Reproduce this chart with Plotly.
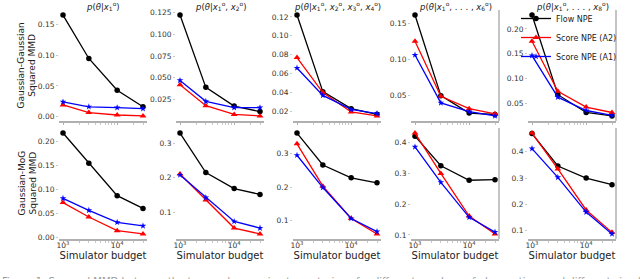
import plotly.graph_objects as go
import math

# ---------------- data ----------------
budgets = [1000, 3000, 10000, 30000]
x_tick_vals = [1000, 10000]
x_tick_text = ["10<sup>3</sup>", "10<sup>4</sup>"]
x_minor_vals = [2000, 3000, 4000, 5000, 6000, 7000, 8000, 9000, 20000, 30000]

titles = [
    "<i>p</i>(<i>θ</i>|<i>x</i><sub>1</sub><sup>o</sup>)",
    "<i>p</i>(<i>θ</i>|<i>x</i><sub>1</sub><sup>o</sup>, <i>x</i><sub>2</sub><sup>o</sup>)",
    "<i>p</i>(<i>θ</i>|<i>x</i><sub>1</sub><sup>o</sup>, <i>x</i><sub>2</sub><sup>o</sup>, <i>x</i><sub>3</sub><sup>o</sup>, <i>x</i><sub>4</sub><sup>o</sup>)",
    "<i>p</i>(<i>θ</i>|<i>x</i><sub>1</sub><sup>o</sup>, . . . , <i>x</i><sub>6</sub><sup>o</sup>)",
    "<i>p</i>(<i>θ</i>|<i>x</i><sub>1</sub><sup>o</sup>, . . . , <i>x</i><sub>8</sub><sup>o</sup>)",
]
row_labels = ["Gaussian-Gaussian<br>Squared MMD", "Gaussian-MoG<br>Squared MMD"]
x_label = "Simulator budget"
series_names = ["Flow NPE", "Score NPE (A2)", "Score NPE (A1)"]

# Gaussian-Gaussian (top row), one list per panel
flow_gg = [
    [0.166, 0.095, 0.043, 0.016],
    [0.122, 0.039, 0.0175, 0.0112],
    [0.122, 0.041, 0.023, 0.017],
    [0.161, 0.050, 0.026, 0.024],
    [0.228, 0.067, 0.031, 0.024],
]
a2_gg = [
    [0.019, 0.0065, 0.0026, 0.001],
    [0.042, 0.018, 0.008, 0.0062],
    [0.077, 0.040, 0.0195, 0.0153],
    [0.125, 0.049, 0.032, 0.025],
    [0.175, 0.074, 0.042, 0.031],
]
a1_gg = [
    [0.024, 0.016, 0.0145, 0.013],
    [0.047, 0.023, 0.0157, 0.0157],
    [0.066, 0.037, 0.0223, 0.0178],
    [0.106, 0.040, 0.028, 0.022],
    [0.146, 0.062, 0.035, 0.025],
]
# Gaussian-MoG (bottom row)
flow_gm = [
    [0.218, 0.155, 0.0875, 0.061],
    [0.329, 0.215, 0.169, 0.152],
    [0.361, 0.266, 0.228, 0.213],
    [0.420, 0.324, 0.277, 0.279],
    [0.469, 0.346, 0.300, 0.275],
]
a2_gm = [
    [0.073, 0.043, 0.0146, 0.0077],
    [0.211, 0.136, 0.055, 0.038],
    [0.329, 0.203, 0.107, 0.061],
    [0.430, 0.299, 0.161, 0.103],
    [0.471, 0.335, 0.179, 0.094],
]
a1_gm = [
    [0.082, 0.057, 0.032, 0.0244],
    [0.208, 0.143, 0.074, 0.055],
    [0.295, 0.199, 0.107, 0.068],
    [0.385, 0.270, 0.157, 0.109],
    [0.412, 0.303, 0.171, 0.088],
]

y_ticks_gg = [
    [0.00, 0.05, 0.10, 0.15],
    [0.025, 0.050, 0.075, 0.100, 0.125],
    [0.02, 0.04, 0.06, 0.08, 0.10, 0.12],
    [0.05, 0.10, 0.15],
    [0.05, 0.10, 0.15, 0.20],
]
y_fmt_gg = [".2f", ".3f", ".2f", ".2f", ".2f"]
y_ticks_gm = [
    [0.00, 0.05, 0.10, 0.15, 0.20],
    [0.1, 0.2, 0.3],
    [0.1, 0.2, 0.3],
    [0.1, 0.2, 0.3, 0.4],
    [0.1, 0.2, 0.3, 0.4],
]
y_fmt_gm = [".2f", ".1f", ".1f", ".1f", ".1f"]

caption = ("Figure 1: Squared MMD between the true and approximate posteriors, for different numbers of "
           "observations and different simulation budgets")

# ---------------- layout / style ----------------
W, H = 640, 279
col_left = [59, 176, 293, 411, 528]
col_w = 88
row_top = [10, 128]
row_h = 111
FONT = "DejaVu Sans"
colors = ["#000000", "#ff0000", "#0000ff"]
symbols = ["circle", "triangle-up", "star"]
msizes = [5.5, 6, 5]
spine = "#b0b0b0"
TICKFONT = dict(size=7.5, color="#333333")

lx0, lx1 = math.log10(budgets[0]), math.log10(budgets[-1])
xpad = 0.05 * (lx1 - lx0)
x_range = [lx0 - xpad, lx1 + xpad]

fig = go.Figure()
layout = dict(
    width=W, height=H,
    margin=dict(l=0, r=0, t=0, b=0, autoexpand=False),
    paper_bgcolor="white", plot_bgcolor="white",
    font=dict(family=FONT, size=8, color="#333333"),
    showlegend=True,
    legend=dict(x=516 / W, y=1 - 4 / H, xanchor="left", yanchor="top",
                bgcolor="rgba(255,255,255,0)", font=dict(size=8, color="#222"),
                tracegroupgap=0, itemwidth=30, borderwidth=0),
)
annotations = []
shapes = []

rows = [(flow_gg, a2_gg, a1_gg, y_ticks_gg, y_fmt_gg),
        (flow_gm, a2_gm, a1_gm, y_ticks_gm, y_fmt_gm)]

for r, (fl, a2, a1, yt, yf) in enumerate(rows):
    for c in range(5):
        i = r * 5 + c + 1
        xn = "x" if i == 1 else f"x{i}"
        yn = "y" if i == 1 else f"y{i}"
        xd = [col_left[c] / W, (col_left[c] + col_w) / W]
        yd = [1 - (row_top[r] + row_h) / H, 1 - row_top[r] / H]
        allv = fl[c] + a2[c] + a1[c]
        lo, hi = min(allv), max(allv)
        pad = 0.05 * (hi - lo)
        for k, ser in enumerate([fl[c], a2[c], a1[c]]):
            fig.add_trace(go.Scatter(
                x=budgets, y=ser, mode="lines+markers", name=series_names[k],
                line=dict(color=colors[k], width=1.3),
                marker=dict(color=colors[k], symbol=symbols[k], size=msizes[k],
                            line=dict(width=0)),
                xaxis=xn, yaxis=yn,
                showlegend=(i == 5), legendrank=k + 1,
            ))
        layout["xaxis" if i == 1 else f"xaxis{i}"] = dict(
            domain=xd, anchor=yn, type="log", range=x_range, automargin=False,
            showgrid=False, zeroline=False,
            showline=True, linecolor=spine, linewidth=1.5,
            tickvals=x_tick_vals, ticktext=x_tick_text,
            showticklabels=(r == 1), ticks="outside", ticklen=2,
            tickcolor=spine, tickfont=TICKFONT, ticklabelstandoff=-4,
            minor=dict(tickvals=x_minor_vals, ticks="outside", ticklen=2,
                       tickcolor="#c8c8c8", showgrid=False),
            title=dict(text=x_label if r == 1 else "", font=dict(size=10, color="#222"),
                       standoff=0),
        )
        layout["yaxis" if i == 1 else f"yaxis{i}"] = dict(
            domain=yd, anchor=xn, range=[lo - pad, hi + pad], automargin=False,
            showgrid=False, zeroline=False, showline=False,
            tickvals=yt[c], tickformat=yf[c],
            ticks="outside", ticklen=2, tickcolor="#c8c8c8",
            tickfont=TICKFONT,
        )
        if r == 0:
            annotations.append(dict(
                text=titles[c], xref="paper", yref="paper",
                x=(col_left[c] + col_w / 2) / W, y=1.0, xanchor="center", yanchor="top",
                showarrow=False, font=dict(size=8.5, color="#222"), yshift=2,
            ))
        if c >= 3:
            shapes.append(dict(type="line", xref="paper", yref="paper",
                               x0=xd[1], x1=xd[1], y0=yd[0], y1=yd[1],
                               line=dict(color=spine, width=1.5)))
    annotations.append(dict(
        text=row_labels[r], xref="paper", yref="paper",
        x=27 / W, y=1 - (row_top[r] + row_h / 2) / H, xanchor="center", yanchor="middle",
        textangle=-90, showarrow=False, font=dict(size=9, color="#222"),
    ))

annotations.append(dict(
    text=caption, xref="paper", yref="paper", x=0, y=1 - 274 / H,
    xanchor="left", yanchor="top", showarrow=False,
    font=dict(size=10, color="#999"),
))

layout["annotations"] = annotations
layout["shapes"] = shapes
fig.update_layout(**layout)
fig.write_html(
    "out.html",
    config={"displayModeBar": False},
    post_script="document.body.style.margin='0';document.body.style.padding='0';",
)
